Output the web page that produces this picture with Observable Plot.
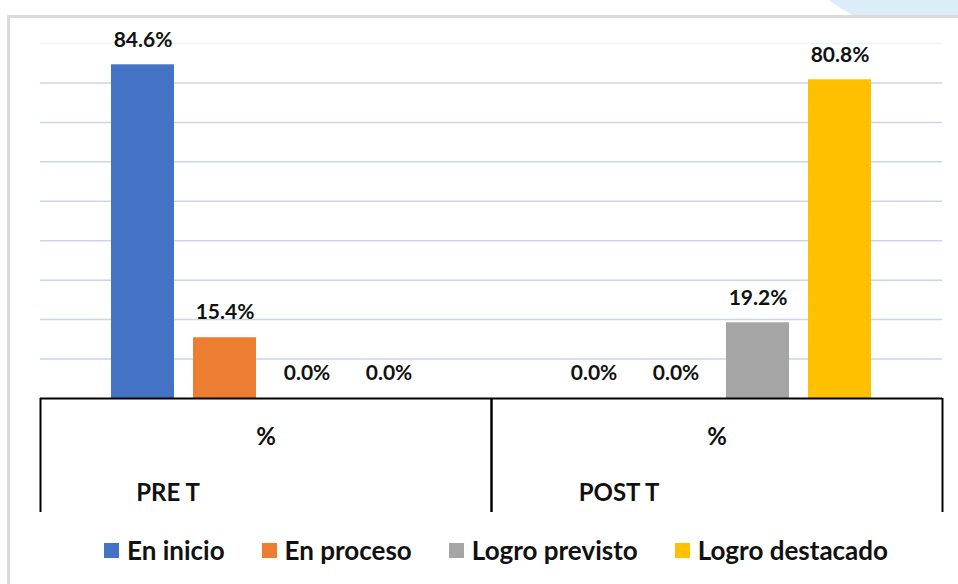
<!DOCTYPE html>
<html>
<head>
<meta charset="utf-8">
<script src="https://cdn.jsdelivr.net/npm/d3@7"></script>
<script src="https://cdn.jsdelivr.net/npm/@observablehq/plot@0.6"></script>
<style>
  html, body { margin: 0; padding: 0; background: #fff; }
  body { width: 958px; height: 584px; overflow: hidden; position: relative; font-family: Lato, "Open Sans", sans-serif; }
  #deco { position: absolute; left: 770px; top: -250px; width: 460px; height: 300px; border-radius: 50%; background: #dcedfa; }
  #panel { position: absolute; left: 7px; top: 15px; width: 980px; height: 600px; background: #fff; border-left: 3px solid #dadada; border-top: 3px solid #dadada; }
  #chart { position: absolute; left: 0; top: 0; }
  #legend { position: absolute; left: 104px; top: 534px; display: flex; align-items: center; font-weight: bold; font-size: 26px; color: #111; white-space: nowrap; }
  #legend .item { display: flex; align-items: center; margin-right: 37px; }
  #legend .sw { width: 15px; height: 15px; margin-right: 8px; }
</style>
</head>
<body>
<div id="deco"></div>
<div id="panel"></div>
<div id="chart"></div>
<div id="legend"></div>
<script>
// ---- data ----
const groups = ["PRE T", "POST T"];
const subLabel = "%";
const series = ["En inicio", "En proceso", "Logro previsto", "Logro destacado"];
const preValues = [84.6, 15.4, 0.0, 0.0];
const postValues = [0.0, 0.0, 19.2, 80.8];
const colors = ["#4472C4", "#ED7D31", "#A5A5A5", "#FFC000"];
const gridTicks = [10, 20, 30, 40, 50, 60, 70, 80, 90];

const valuesByGroup = [preValues, postValues];
const data = groups.flatMap((g, gi) =>
  series.map((s, si) => ({group: g, series: s, value: valuesByGroup[gi][si]}))
);

const chart = Plot.plot({
  width: 958,
  height: 520,
  marginLeft: 39,
  marginRight: 16,
  marginTop: 43,
  marginBottom: 122,
  style: {fontFamily: "Lato, 'Open Sans', sans-serif", background: "transparent", overflow: "visible"},
  fx: {domain: groups, padding: 0, axis: null},
  x: {domain: series, paddingInner: 0.232, paddingOuter: 0.866, axis: null},
  y: {domain: [0, 90], axis: null},
  color: {domain: series, range: colors},
  marks: [
    Plot.gridY(gridTicks.filter(t => t < 90), {stroke: "#c8d5ec", strokeOpacity: 1, strokeWidth: 1.5}),
    Plot.gridY(gridTicks.filter(t => t >= 90), {stroke: "#eef2f8", strokeOpacity: 1, strokeWidth: 1.5}),
    Plot.barY(data, {fx: "group", x: "series", y: "value", fill: "series"}),
    Plot.text(data, {
      fx: "group", x: "series", y: "value",
      text: d => d.value.toFixed(1) + "%",
      dy: -25, fontSize: 21, fontWeight: "bold", fill: "#111"
    }),
    Plot.ruleY([0], {stroke: "#000", strokeWidth: 2}),
    Plot.ruleX(groups, {fx: d => d, x: null, dx: -225.5, insetTop: 355, insetBottom: -114, stroke: "#000", strokeWidth: 2}),
    Plot.ruleX(groups, {fx: d => d, x: null, dx: 225.5, insetTop: 355, insetBottom: -114, stroke: "#000", strokeWidth: 2}),
    Plot.text(groups, {fx: d => d, text: () => subLabel, frameAnchor: "bottom", lineAnchor: "middle", dy: 39, fontSize: 24, fontWeight: "bold", fill: "#111"}),
    Plot.text(groups, {fx: d => d, text: d => d, frameAnchor: "bottom", lineAnchor: "middle", dy: 95, dx: -98, fontSize: 24, fontWeight: "bold", fill: "#111"})
  ]
});
document.getElementById("chart").appendChild(chart);

const legend = document.getElementById("legend");
series.forEach((s, i) => {
  const item = document.createElement("div");
  item.className = "item";
  const sw = document.createElement("span");
  sw.className = "sw";
  sw.style.background = colors[i];
  const label = document.createElement("span");
  label.textContent = s;
  item.appendChild(sw);
  item.appendChild(label);
  legend.appendChild(item);
});
</script>
</body>
</html>
